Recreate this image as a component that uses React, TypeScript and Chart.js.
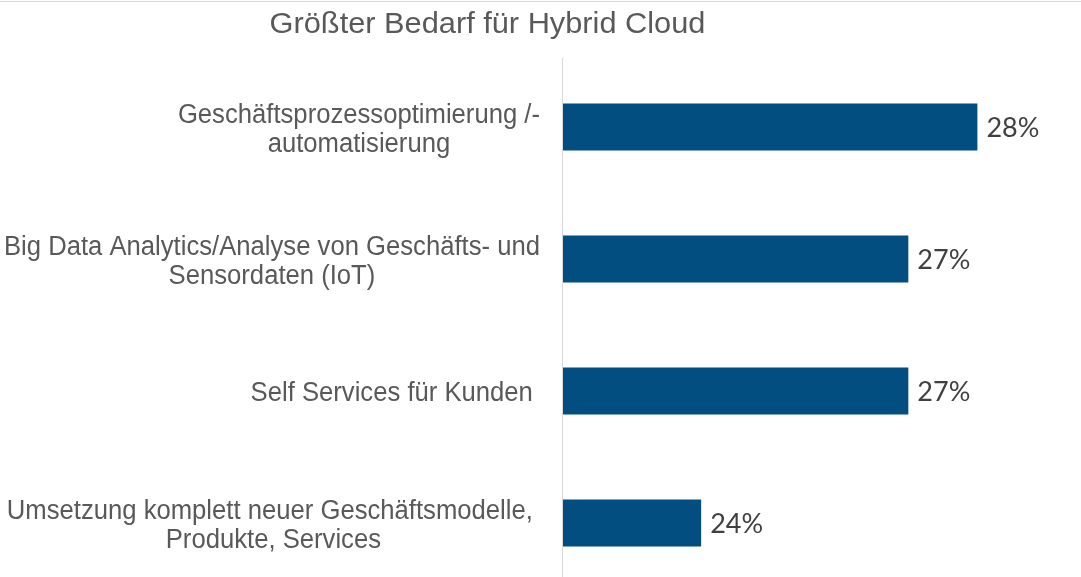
import React, { useEffect, useRef } from "react";
import { Chart, registerables } from "chart.js";

Chart.register(...registerables);

const title = "Größter Bedarf für Hybrid Cloud";
const categoryLines: string[][] = [
  ["Geschäftsprozessoptimierung /-", "automatisierung"],
  ["Big Data Analytics/Analyse von Geschäfts- und", "Sensordaten (IoT)"],
  ["Self Services für Kunden "],
  ["Umsetzung komplett neuer Geschäftsmodelle, ", "Produkte, Services"],
];
const categories = categoryLines.map((l) => l.join(" "));
const values = [28, 27, 27, 24];
const valueLabels = ["28%", "27%", "27%", "24%"];

const W = 1081;
const H = 600;

function drawScaled(
  ctx: CanvasRenderingContext2D,
  text: string,
  x: number,
  y: number,
  sx: number
) {
  ctx.save();
  ctx.translate(x, y);
  ctx.scale(sx, 1);
  ctx.fillText(text, 0, 0);
  ctx.restore();
}

export default function App() {
  const ref = useRef<HTMLCanvasElement | null>(null);

  useEffect(() => {
    const canvas = ref.current;
    if (!canvas) return;

    const decor = {
      id: "decor",
      afterDraw(chart: any) {
        const ctx = chart.ctx as CanvasRenderingContext2D;
        const area = chart.chartArea;
        const y = chart.scales.y;
        const x = chart.scales.x;
        ctx.save();
        // top border line
        ctx.strokeStyle = "#d9d9d9";
        ctx.lineWidth = 1;
        ctx.beginPath();
        ctx.moveTo(0, 1.5);
        ctx.lineTo(W, 1.5);
        ctx.stroke();
        // vertical axis line
        ctx.beginPath();
        ctx.moveTo(area.left - 0.5, 58);
        ctx.lineTo(area.left - 0.5, H);
        ctx.stroke();
        // title
        ctx.fillStyle = "#595959";
        ctx.font = '30px "Liberation Sans", Arial, sans-serif';
        ctx.textAlign = "center";
        ctx.textBaseline = "alphabetic";
        drawScaled(ctx, title, 487.5, 33, 1.025);
        // category labels
        const sx = 0.95;
        ctx.font = '27px "Liberation Sans", Arial, sans-serif';
        ctx.textBaseline = "alphabetic";
        const right = area.left - 23;
        const lh = 29;
        categoryLines.forEach((lines, i) => {
          const cy = y.getPixelForValue(i);
          const maxW = Math.max(...lines.map((l) => ctx.measureText(l).width)) * sx;
          const cx = right - maxW / 2;
          const start = cy - ((lines.length - 1) * lh) / 2;
          lines.forEach((l, j) => {
            drawScaled(ctx, l, cx, start + j * lh + 10, sx);
          });
        });
        // value labels
        ctx.fillStyle = "#404040";
        ctx.font = '27px Lato, "Open Sans", sans-serif';
        ctx.textAlign = "left";
        ctx.textBaseline = "middle";
        values.forEach((v, i) => {
          const px = x.getPixelForValue(v);
          const py = y.getPixelForValue(i);
          ctx.fillText(valueLabels[i], px + 9, py + 1);
        });
        ctx.restore();
      },
    };

    const chart = new Chart(canvas, {
      type: "bar",
      data: {
        labels: categories,
        datasets: [
          {
            data: values,
            backgroundColor: "#024e80",
            borderWidth: 0,
            barPercentage: 47 / 132,
            categoryPercentage: 1,
          },
        ],
      },
      options: {
        indexAxis: "y",
        responsive: false,
        animation: false,
        layout: { padding: { left: 563, right: 0, top: 61, bottom: H - 589 } },
        plugins: {
          legend: { display: false },
          title: { display: false },
          tooltip: { enabled: false },
        },
        scales: {
          x: { display: false, min: 22, max: 29.5 },
          y: { display: false },
        },
      },
      plugins: [decor],
    });
    return () => chart.destroy();
  }, []);

  return (
    <div
      style={{
        position: "absolute",
        left: 0,
        top: 0,
        width: W,
        height: 577,
        overflow: "hidden",
        background: "#ffffff",
      }}
    >
      <canvas ref={ref} width={W} height={H} style={{ display: "block" }} />
    </div>
  );
}
